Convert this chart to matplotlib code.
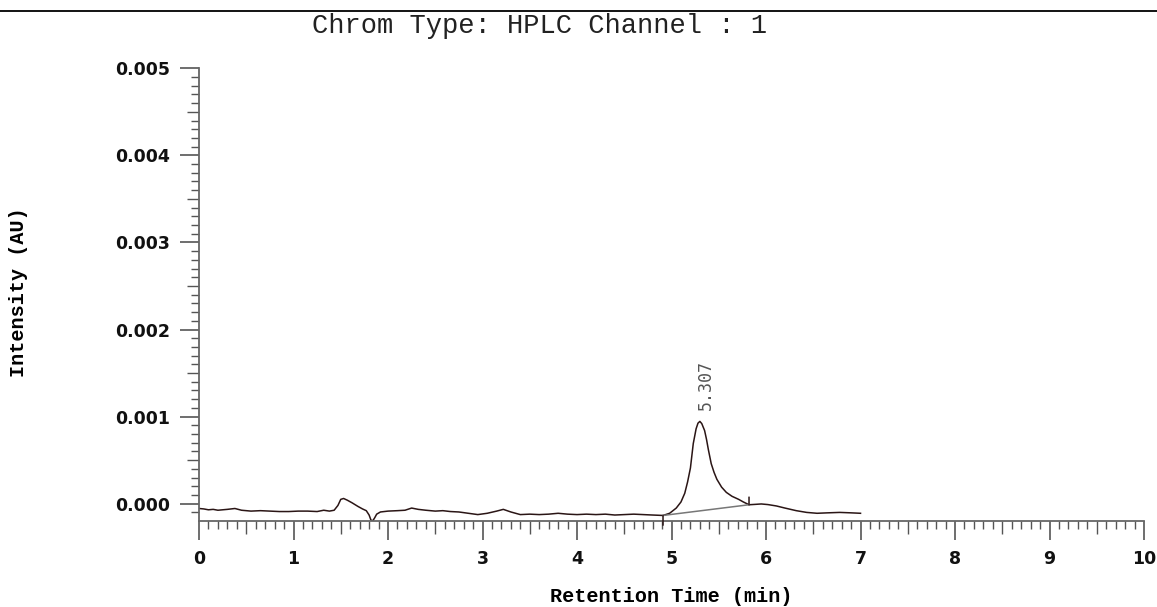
import numpy as np
import matplotlib.pyplot as plt
from matplotlib.ticker import MultipleLocator, FormatStrFormatter
from matplotlib.lines import Line2D
#<---------------------------- Datos del cromatograma ---------------------------->
time_min=[0.00,0.05,0.10,0.15,0.20,0.25,0.30,0.38,0.45,0.55,0.65,0.75,0.85,0.95,1.05,1.15,1.25,1.32,1.38,1.43,
          1.47,1.50,1.53,1.57,1.62,1.68,1.73,1.77,1.80,1.82,1.84,1.86,1.88,1.92,2.00,2.10,2.18,2.25,2.32,2.40,
          2.50,2.58,2.66,2.75,2.85,2.95,3.05,3.15,3.22,3.30,3.40,3.50,3.60,3.70,3.80,3.90,4.00,4.10,4.20,4.30,
          4.40,4.50,4.60,4.70,4.80,4.91,4.98,5.05,5.10,5.14,5.17,5.20,5.23,5.26,5.28,5.30,5.32,5.35,5.37,5.39,
          5.42,5.45,5.48,5.53,5.58,5.64,5.71,5.76,5.82,5.88,5.95,6.02,6.11,6.20,6.32,6.43,6.54,6.65,6.78,6.90,7.00]
intensity=[-0.000055,-0.000060,-0.000070,-0.000065,-0.000075,-0.000070,-0.000065,-0.000055,-0.000075,-0.000085,
           -0.000080,-0.000085,-0.000090,-0.000090,-0.000085,-0.000085,-0.000090,-0.000075,-0.000085,-0.000075,
           -0.000020,0.000050,0.000060,0.000040,0.000010,-0.000030,-0.000060,-0.000080,-0.000130,-0.000190,
           -0.000195,-0.000160,-0.000120,-0.000095,-0.000085,-0.000080,-0.000075,-0.000050,-0.000065,-0.000075,
           -0.000085,-0.000080,-0.000090,-0.000095,-0.000110,-0.000125,-0.000110,-0.000085,-0.000065,-0.000095,
           -0.000125,-0.000120,-0.000125,-0.000120,-0.000110,-0.000120,-0.000125,-0.000120,-0.000125,-0.000120,
           -0.000130,-0.000125,-0.000120,-0.000125,-0.000130,-0.000135,-0.000110,-0.000050,0.000020,0.000120,
           0.000250,0.000410,0.000690,0.000860,0.000925,0.000945,0.000920,0.000840,0.000740,0.000620,
           0.000460,0.000360,0.000280,0.000190,0.000130,0.000085,0.000050,0.000020,-0.000012,-0.000008,-0.000003,
           -0.000010,-0.000026,-0.000050,-0.000080,-0.000100,-0.000110,-0.000105,-0.000100,-0.000105,-0.000110]
#<---------------------------- Linea base del pico integrado ---------------------------->
base_t=[4.91,5.82];base_y=[-0.000135,-0.000012]
peak_t=5.307;peak_y=0.000945;peak_label="5.307"
fig=plt.figure(figsize=(11.57,6.07),dpi=100)
ax=fig.add_axes([0.172,0.1422,0.8168,0.7453])
ax.plot(time_min,intensity,color="#2a1515",lw=1.1)
ax.plot(base_t,base_y,color="#777777",lw=1.1)
#<---------------------------- Marcas de inicio y fin del pico ---------------------------->
ax.annotate("",xy=(base_t[0],base_y[0]),xytext=(0,-7),textcoords="offset points",
            arrowprops=dict(arrowstyle="-",color="#2a1515",lw=1.1,shrinkA=0,shrinkB=0),annotation_clip=False)
ax.annotate("",xy=(base_t[1],base_y[1]),xytext=(0,5.5),textcoords="offset points",
            arrowprops=dict(arrowstyle="-",color="#2a1515",lw=1.1,shrinkA=0,shrinkB=0))
ax.annotate(peak_label,xy=(peak_t,peak_y),xytext=(3.5,8.5),textcoords="offset points",rotation=90,
            ha="center",va="bottom",fontsize=12,family="DejaVu Sans Mono",color="#555555")
#<---------------------------- Limites y ticks ---------------------------->
ax.set_xlim(0,10);ax.set_ylim(-0.000195,0.005)
ax.xaxis.set_major_locator(MultipleLocator(1));ax.xaxis.set_minor_locator(MultipleLocator(0.1))
ax.yaxis.set_major_locator(MultipleLocator(0.001));ax.yaxis.set_minor_locator(MultipleLocator(0.0001))
ax.yaxis.set_major_formatter(FormatStrFormatter("%.3f"))
for s in ["top","right"]:
    ax.spines[s].set_visible(False)
for s in ["left","bottom"]:
    ax.spines[s].set_color("#666666");ax.spines[s].set_linewidth(1.3)
ax.tick_params(which="major",length=14,width=1.2,color="#555555",pad=7)
ax.tick_params(which="minor",length=6,width=1.0,color="#555555")
ax.tick_params(labelsize=12.5,labelcolor="#111111")
for lab in ax.get_xticklabels()+ax.get_yticklabels():
    lab.set_fontweight("bold")
#<---------------------------- Ticks intermedios mas largos ---------------------------->
for axis,step in [(ax.xaxis,0.5),(ax.yaxis,0.0005)]:
    for tk,loc in zip(axis.get_minor_ticks(),axis.get_minorticklocs()):
        if abs(loc/step-round(loc/step))<1e-6:
            tk.tick1line.set_markersize(9)
#<---------------------------- Titulos ---------------------------->
ax.set_xlabel("Retention Time (min)",family="Liberation Mono",fontweight="bold",fontsize=14.5)
ax.set_ylabel("Intensity (AU)",family="Liberation Mono",fontweight="bold",fontsize=14.5)
ax.xaxis.set_label_coords(0.5,-0.147);ax.yaxis.set_label_coords(-0.181,0.505)
fig.suptitle("Chrom Type: HPLC Channel : 1",x=0.4667,y=0.9575,va="center",family="Liberation Mono",
             fontsize=19.5,color="#222222")
fig.add_artist(Line2D([0,1],[0.9824,0.9824],color="black",lw=1.3))
plt.savefig("out.png",dpi=100)
